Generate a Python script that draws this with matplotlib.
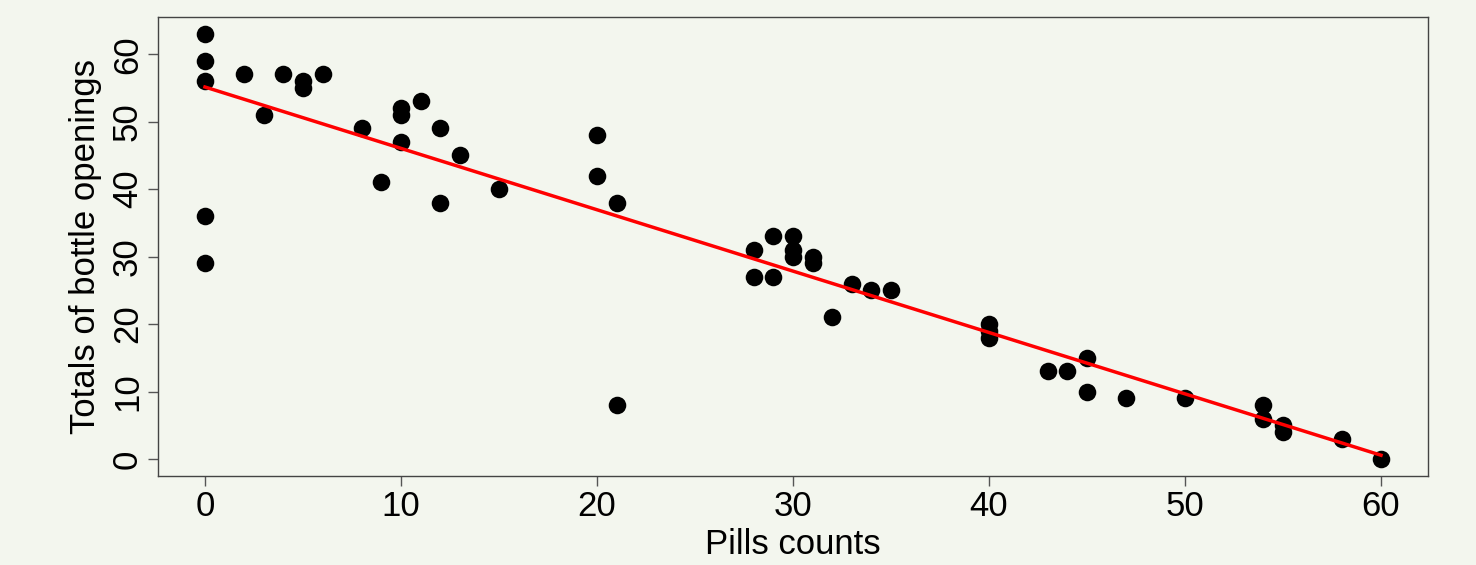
import matplotlib.pyplot as plt
import numpy as np

# pills counted vs. recorded bottle openings
pills = [0, 0, 0, 0, 0, 2, 3, 4, 5, 5, 6, 8, 9, 10, 10, 10, 11, 12, 12, 13, 15,
         20, 20, 21, 21, 28, 28, 29, 29, 30, 30, 30, 31, 31, 32, 33, 34, 35,
         40, 40, 40, 43, 44, 45, 45, 47, 50, 54, 54, 55, 55, 58, 60]
openings = [63, 59, 56, 36, 29, 57, 51, 57, 56, 55, 57, 49, 41, 52, 51, 47, 53, 49, 38, 45, 40,
            48, 42, 38, 8, 31, 27, 33, 27, 33, 31, 30, 30, 29, 21, 26, 25, 25,
            20, 19, 18, 13, 13, 15, 10, 9, 9, 8, 6, 5, 4, 3, 0]
xticks = [0, 10, 20, 30, 40, 50, 60]
yticks = [0, 10, 20, 30, 40, 50, 60]

bg = '#f3f6ee'
plt.rcParams['font.family'] = ['Liberation Sans', 'DejaVu Sans']

fig = plt.figure(figsize=(14.76, 5.65), dpi=100, facecolor=bg)
ax = fig.add_axes([0.107, 0.1575, 0.8605, 0.8125], facecolor=bg)

ax.scatter(pills, openings, s=160, color='black', zorder=3, linewidths=0)

# least squares line, drawn over the data range
slope, icpt = np.polyfit(pills, openings, 1)
xs = np.array([min(pills), max(pills)])
ax.plot(xs, icpt + slope * xs, color='red', lw=2.5, zorder=4)

ax.set_xlim(-2.4, 62.4)
ax.set_ylim(-2.52, 65.52)
ax.set_xticks(xticks)
ax.set_yticks(yticks)
ax.tick_params(direction='out', length=7, width=1, color='#555555', labelsize=25, pad=3)
for lab in ax.get_yticklabels():
    lab.set_rotation(90)
    lab.set_va('center')
for s in ax.spines.values():
    s.set_color('#444444')
    s.set_linewidth(1)

ax.set_xlabel('Pills counts', fontsize=25, labelpad=4)
ax.set_ylabel('Totals of bottle openings', fontsize=25, labelpad=6.5)

fig.savefig('out.png', dpi=100, facecolor=bg)
